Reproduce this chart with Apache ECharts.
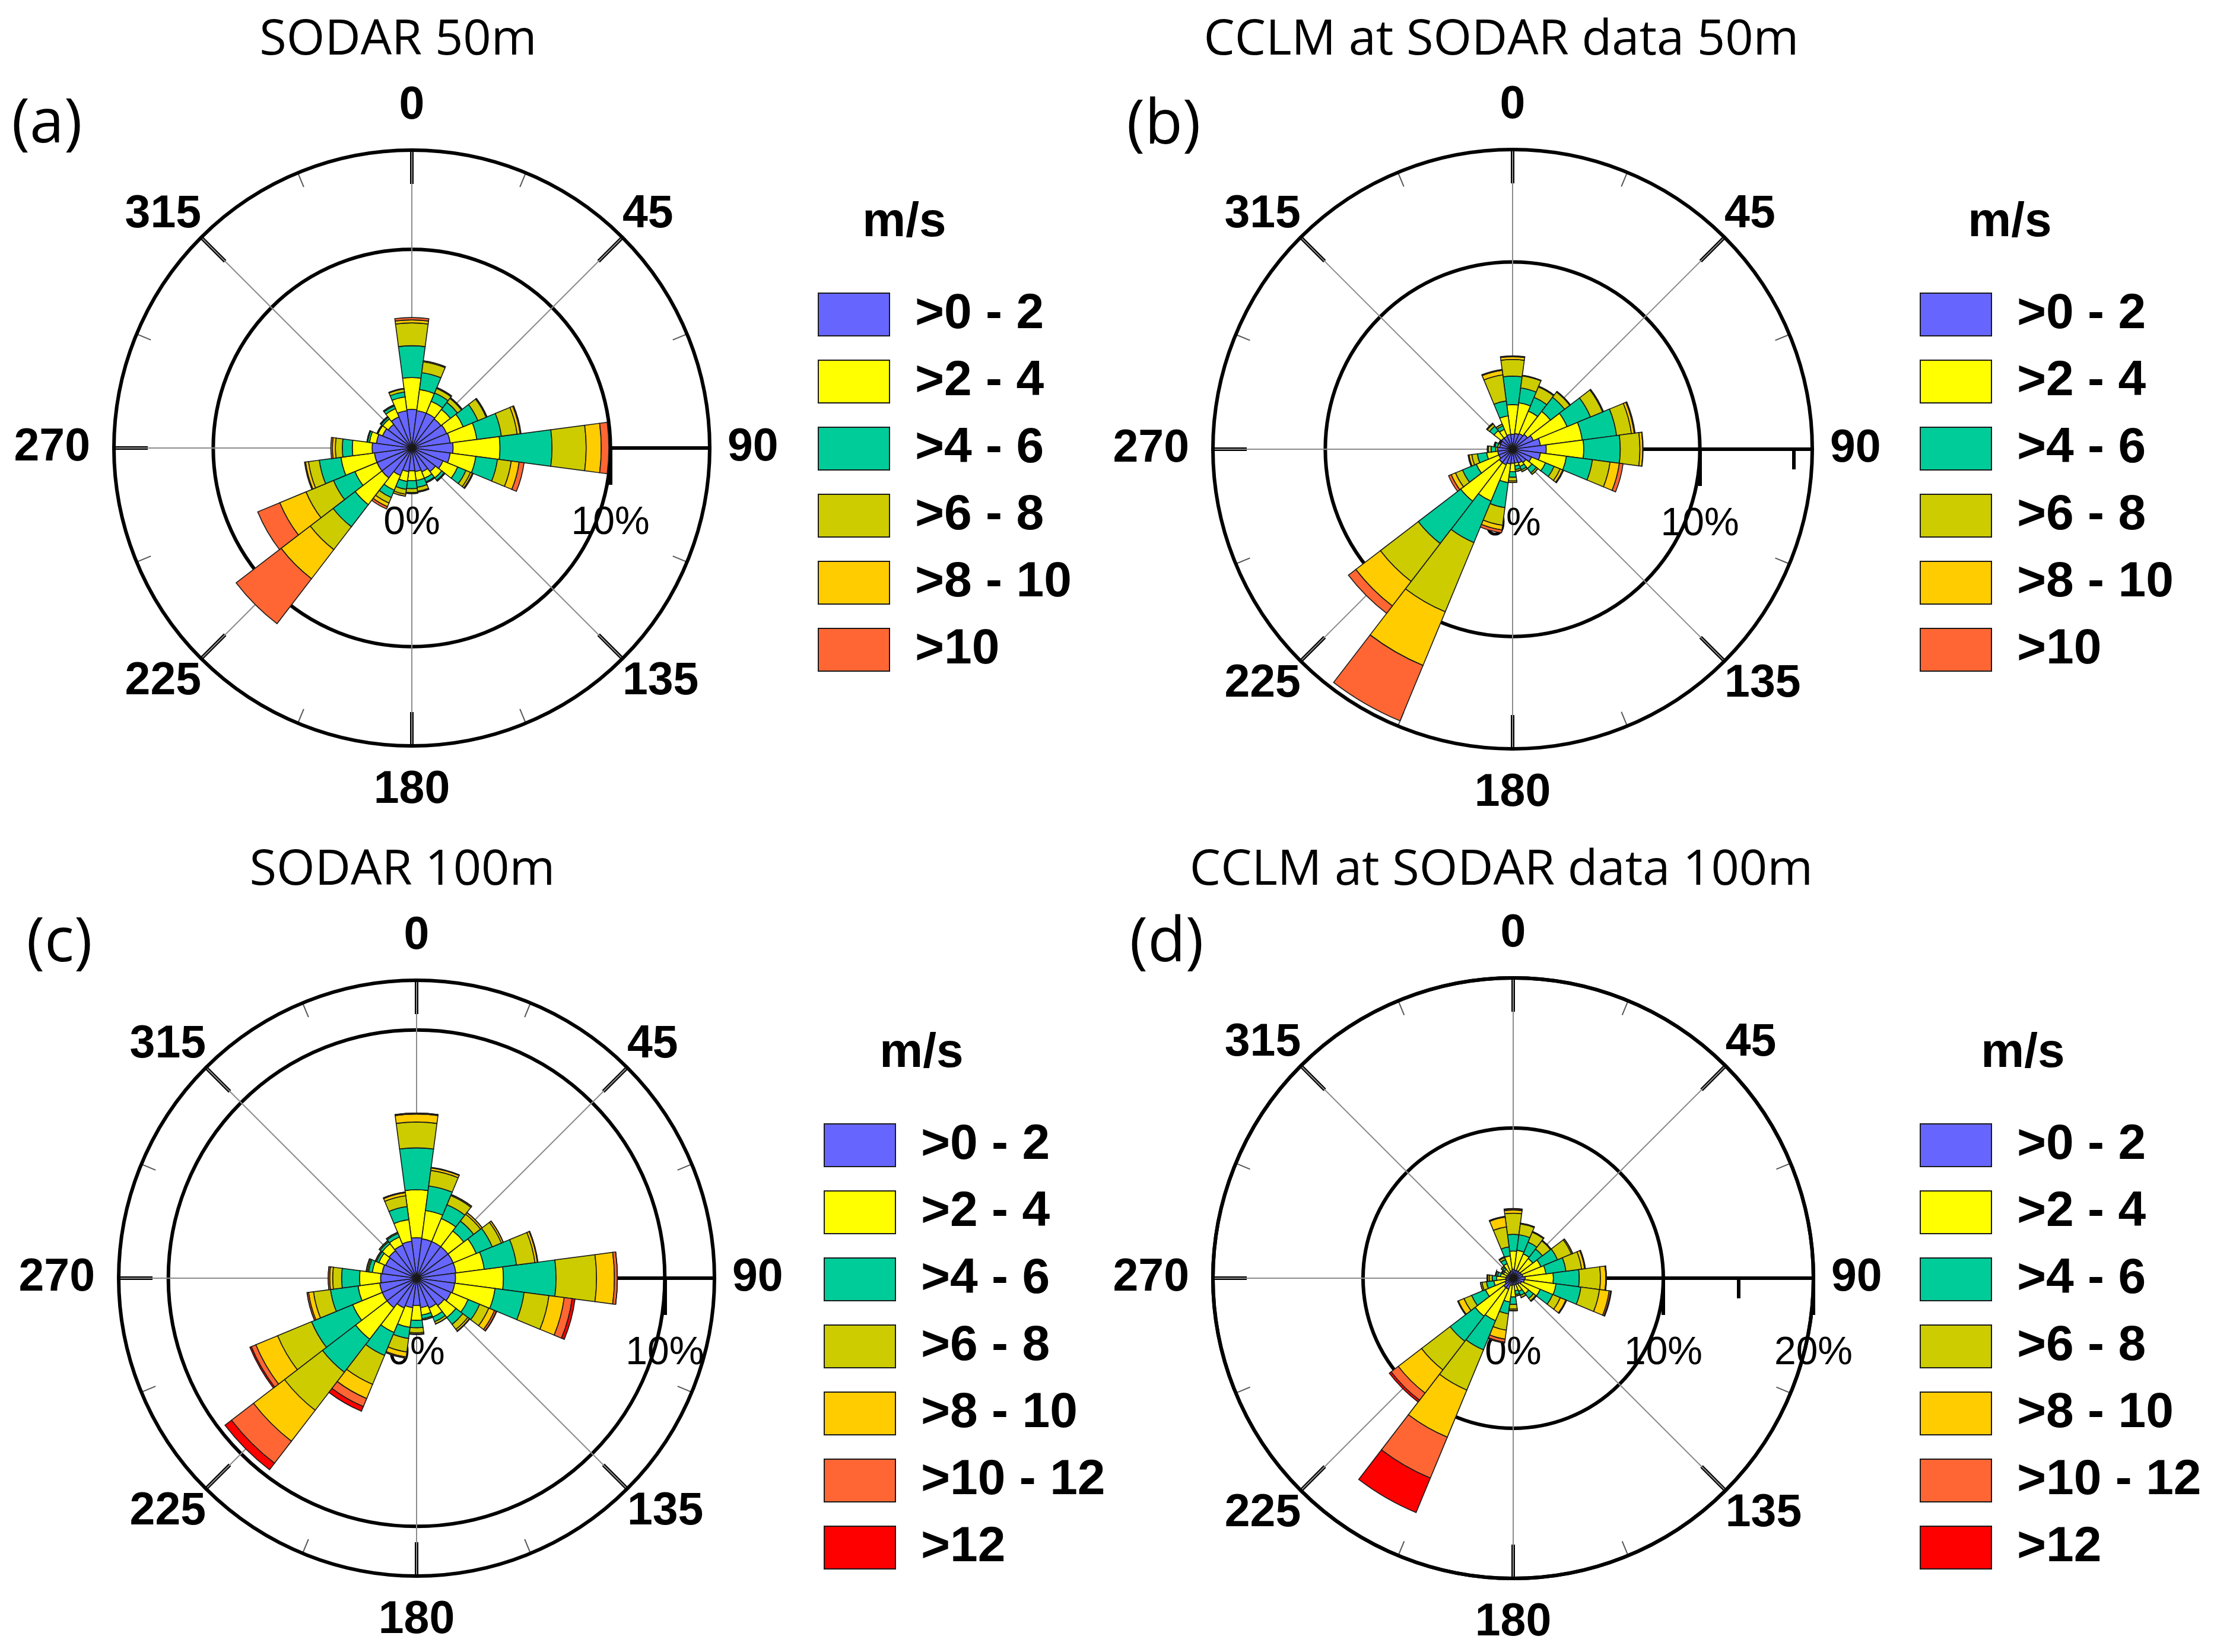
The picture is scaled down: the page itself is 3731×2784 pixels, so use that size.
<!DOCTYPE html>
<html>
<head>
<meta charset="utf-8">
<script src="https://cdn.jsdelivr.net/npm/echarts@6/dist/echarts.min.js"></script>
<style>
html,body{margin:0;padding:0;background:#ffffff;}
#chart{width:3731px;height:2784px;}
</style>
</head>
<body>
<div id="chart"></div>
<script>
// ---------------- DATA ----------------
const directions = ['0','15','30','45','60','75','90','105','120','135','150','165',
                    '180','195','210','225','240','255','270','285','300','315','330','345'];
const classes50  = ['>0 - 2','>2 - 4','>4 - 6','>6 - 8','>8 - 10','>10'];
const classes100 = ['>0 - 2','>2 - 4','>4 - 6','>6 - 8','>8 - 10','>10 - 12','>12'];
const colors50  = ['#6666FF','#FFFF00','#00CC99','#CCCC00','#FFCC00','#FF6633'];
const colors100 = ['#6666FF','#FFFF00','#00CC99','#CCCC00','#FFCC00','#FF6633','#FF0000'];
const radialTicks = ['0%','10%','20%'];

// (a) SODAR 50m  - frequency (%) per direction, one array per speed class
const sodar50_0_2  = [1.95,1.9,1.9,1.85,1.9,1.95,2.08,1.95,1.7,1.5,1.3,1.2,1.15,1.2,1.5,1.9,1.9,1.9,2.0,1.8,1.6,1.5,1.7,1.9];
const sodar50_2_4  = [1.6,1.07,0.65,0.6,0.9,1.35,2.36,1.3,0.8,0.4,0.35,0.45,0.5,0.5,0.8,1.7,1.2,1.7,1.0,0.35,0.25,0.35,0.45,0.7];
const sodar50_4_6  = [1.6,0.86,0.45,0.45,0.8,1.25,2.62,1.1,0.45,0.15,0.2,0.35,0.4,0.4,0.4,1.4,1.17,1.1,0.5,0.1,0.05,0.1,0.15,0.25];
const sodar50_6_8  = [1.15,0.55,0.25,0.25,0.45,0.8,1.72,0.7,0.25,0.05,0.05,0.2,0.2,0.25,0.3,1.45,1.5,0.55,0.35,0.03,0,0.05,0.05,0.15];
const sodar50_8_10 = [0.15,0.05,0.05,0.05,0.05,0.15,0.76,0.4,0.1,0,0,0.05,0.05,0.1,0.2,1.85,1.43,0.15,0.15,0,0,0,0,0.03];
const sodar50_10   = [0.12,0,0,0,0,0.05,0.38,0.25,0.05,0,0,0,0,0,0.12,2.85,1.2,0.05,0.08,0,0,0,0,0];

// (b) CCLM at SODAR data 50m
const cclm50_0_2  = [0.8,0.85,0.9,1.0,1.2,1.5,1.8,1.5,1.1,0.9,0.8,0.75,0.75,0.8,0.9,0.9,0.8,0.8,0.8,0.7,0.7,0.75,0.75,0.8];
const cclm50_2_4  = [1.58,1.65,1.3,1.55,1.95,2.25,2.0,1.4,0.8,0.4,0.2,0.15,0.45,1.0,2.1,2.6,1.3,0.6,0.1,0.1,0.05,0.5,0.4,1.0];
const cclm50_4_6  = [1.52,0.8,0.8,0.95,1.35,1.85,1.95,1.4,0.5,0.3,0.2,0.2,0.3,1.35,2.4,2.85,0.8,0.5,0.25,0.15,0.05,0.3,0.2,0.8];
const cclm50_6_8  = [0.89,0.65,0.6,0.35,0.7,0.8,1.05,0.95,0.35,0.1,0.1,0.1,0.2,0.95,4.0,2.55,0.4,0.3,0.15,0.05,0,0.15,0.1,1.4];
const cclm50_8_10 = [0.15,0.03,0.04,0.04,0.05,0.15,0.15,0.5,0.15,0,0,0,0.08,0.25,3.1,1.65,0.25,0.15,0.05,0,0,0.05,0,0.25];
const cclm50_10   = [0.04,0,0,0,0,0.05,0.02,0.2,0.05,0,0,0,0,0.15,3.2,0.5,0.15,0.05,0,0,0,0,0,0.05];

// (c) SODAR 100m
const sodar100_0_2   = [1.63,1.6,1.6,1.6,1.6,1.6,1.57,1.55,1.5,1.4,1.3,1.2,1.1,1.2,1.3,1.5,1.5,1.5,1.45,1.4,1.35,1.4,1.45,1.5];
const sodar100_2_4   = [1.93,1.15,1.0,0.8,1.0,1.15,1.93,1.64,0.75,0.6,0.4,0.3,0.6,0.8,1.07,1.6,1.29,0.88,0.85,0.4,0.3,0.35,0.35,0.88];
const sodar100_4_6   = [1.69,1.0,0.6,0.5,0.7,1.31,2.12,1.18,0.5,0.35,0.2,0.15,0.3,0.45,1.0,1.68,1.79,1.12,0.72,0.15,0.1,0.1,0.15,0.53];
const sodar100_6_8   = [1.04,0.63,0.4,0.35,0.4,0.75,1.63,1.01,0.4,0.25,0.1,0.05,0.2,0.55,1.26,1.93,1.48,0.69,0.36,0.05,0.05,0.05,0.05,0.44];
const sodar100_8_10  = [0.32,0.1,0.05,0.08,0.08,0.1,0.72,0.62,0.25,0.08,0,0,0.05,0.2,0.62,1.57,0.95,0.2,0.12,0.05,0,0,0,0.12];
const sodar100_10_12 = [0.04,0.02,0,0,0,0.02,0.12,0.32,0.08,0.02,0,0,0.02,0.05,0.35,1.12,0.2,0.06,0.06,0,0,0,0,0.03];
const sodar100_12    = [0,0,0,0,0,0,0,0.12,0.02,0,0,0,0,0,0.2,0.33,0.06,0,0,0,0,0,0,0];

// (d) CCLM at SODAR data 100m
const cclm100_0_2   = [0.6,0.55,0.55,0.55,0.6,0.65,0.8,0.75,0.6,0.5,0.45,0.45,0.45,0.5,0.8,0.8,0.6,0.5,0.5,0.45,0.4,0.4,0.45,0.5];
const cclm100_2_4   = [1.21,1.33,1.2,1.1,1.4,1.55,1.88,2.13,1.35,0.8,0.5,0.4,0.8,1.1,2.27,2.4,1.4,0.8,0.6,0.4,0.3,0.35,0.6,1.0];
const cclm100_4_6   = [1.11,1.04,0.85,0.8,1.2,1.35,1.72,1.67,0.9,0.4,0.3,0.25,0.5,0.8,2.1,2.1,1.0,0.5,0.3,0.2,0.1,0.15,0.3,0.6];
const cclm100_6_8   = [1.41,0.73,0.72,0.68,1.0,1.05,1.41,1.25,0.55,0.2,0.15,0.1,0.3,1.1,2.9,2.4,0.55,0.3,0.2,0.1,0.05,0.1,0.15,1.35];
const cclm100_8_10  = [0.21,0.05,0.05,0.05,0.09,0.2,0.36,0.65,0.4,0.05,0,0,0.1,0.6,3.4,1.95,0.4,0.1,0.1,0.05,0,0,0.05,0.65];
const cclm100_10_12 = [0.08,0,0,0,0,0.05,0.04,0.1,0.05,0,0,0,0.03,0.2,2.95,0.6,0.05,0,0.05,0,0,0,0,0.05];
const cclm100_12    = [0.02,0,0,0,0,0,0,0.05,0,0,0,0,0,0.06,2.48,0.15,0,0,0,0,0,0,0,0];

// ---------------- LAYOUT ----------------
const panels = [
  { title:'SODAR 50m', letter:'(a)', classes:classes50, colors:colors50,
    data:[sodar50_0_2,sodar50_2_4,sodar50_4_6,sodar50_6_8,sodar50_8_10,sodar50_10],
    max:15, center:[694,755], radius:502, titlePos:[671,68], letterPos:[79,210],
    legendPos:[1378,488], unitPos:[1524,375] },
  { title:'CCLM at SODAR data 50m', letter:'(b)', classes:classes50, colors:colors50,
    data:[cclm50_0_2,cclm50_2_4,cclm50_4_6,cclm50_6_8,cclm50_8_10,cclm50_10],
    max:16, center:[2549,757], radius:505, titlePos:[2530,68], letterPos:[1961,212],
    legendPos:[3235,488], unitPos:[3387,375] },
  { title:'SODAR 100m', letter:'(c)', classes:classes100, colors:colors100,
    data:[sodar100_0_2,sodar100_2_4,sodar100_4_6,sodar100_6_8,sodar100_8_10,sodar100_10_12,sodar100_12],
    max:12, center:[702,2154], radius:502, titlePos:[678,1467], letterPos:[100,1590],
    legendPos:[1388,1888], unitPos:[1553,1775] },
  { title:'CCLM at SODAR data 100m', letter:'(d)', classes:classes100, colors:colors100,
    data:[cclm100_0_2,cclm100_2_4,cclm100_4_6,cclm100_6_8,cclm100_8_10,cclm100_10_12,cclm100_12],
    max:20, center:[2550,2154], radius:506, titlePos:[2530,1467], letterPos:[1966,1590],
    legendPos:[3235,1888], unitPos:[3409,1775] }
];

const BOLD = 'Liberation Sans';
const angleLabelRich = {
  n: {padding:[0,0,36,0], fontSize:77, fontWeight:'bold', fontFamily:BOLD, color:'#000'},
  e: {padding:[0,0,0,30], fontSize:77, fontWeight:'bold', fontFamily:BOLD, color:'#000'},
  s: {padding:[36,0,0,0], fontSize:77, fontWeight:'bold', fontFamily:BOLD, color:'#000'},
  w: {padding:[0,40,0,0], fontSize:77, fontWeight:'bold', fontFamily:BOLD, color:'#000'},
  d: {fontSize:77, fontWeight:'bold', fontFamily:BOLD, color:'#000'}
};
function angleLabel(v) {
  const a = v % 360;
  const key = a === 0 ? 'n' : a === 90 ? 'e' : a === 180 ? 's' : a === 270 ? 'w' : 'd';
  return '{' + key + '|' + a + '}';
}

const polar = [], angleAxis = [], radiusAxis = [], series = [], legend = [], graphic = [];

panels.forEach((p, i) => {
  const ctr = p.center, rad = [0, p.radius];
  // polar i: bars, polar 4+i: decoration, polar 8+i: minor radial ticks
  polar[i] = { center: ctr, radius: rad };
  polar[4 + i] = { center: ctr, radius: rad };
  polar[8 + i] = { center: ctr, radius: rad };

  angleAxis.push({
    polarIndex: i, type: 'category', data: directions, startAngle: 97.5, clockwise: true,
    boundaryGap: true, axisLine: {show:false}, axisTick: {show:false},
    axisLabel: {show:false}, splitLine: {show:false}, splitArea: {show:false}
  });
  radiusAxis.push({
    polarIndex: i, type: 'value', min: 0, max: p.max,
    axisLine: {show:false}, axisTick: {show:false}, axisLabel: {show:false}, splitLine: {show:false}
  });

  const majors = radialTicks.map(t => parseFloat(t)).filter(v => v > 0 && v <= p.max);
  const labelsV = radialTicks.map(t => parseFloat(t)).filter(v => v <= p.max);
  angleAxis.push({
    polarIndex: 4 + i, type: 'value', min: 90, max: 450, interval: 45,
    startAngle: 0, clockwise: true,
    axisLine: {show:true, lineStyle:{color:'#000', width:6}},
    axisTick: {show:true, inside:true, length:57, lineStyle:{color:'#000', width:6}},
    minorTick: {show:true, splitNumber:2, length:26, lineStyle:{color:'#555', width:2}},
    axisLabel: {show:true, margin:0, color:'#000', fontSize:77, fontWeight:'bold', fontFamily:BOLD,
      formatter: angleLabel, rich: angleLabelRich},
    splitLine: {show:true, lineStyle:{color:'#8c8c8c', width:2}}
  });
  radiusAxis.push({
    polarIndex: 4 + i, type: 'value', min: 0, max: p.max, interval: 10,
    axisLine: {show:true, lineStyle:{color:'#000', width:6}},
    axisTick: {show:true, length:-62, customValues: majors, lineStyle:{color:'#000', width:6}},
    axisLabel: {show:true, customValues: labelsV, formatter:'{value}%', margin:-160,
      color:'#000', fontSize:66, fontFamily:BOLD},
    splitLine: {show:true, lineStyle:{color:'#000', width:6}}
  });

  const minors = [5, 15].filter(v => v < p.max);
  angleAxis.push({
    polarIndex: 8 + i, type: 'value', min: 90, max: 450, startAngle: 0, clockwise: true,
    axisLine: {show:false}, axisTick: {show:false}, axisLabel: {show:false}, splitLine: {show:false}
  });
  radiusAxis.push({
    polarIndex: 8 + i, type: 'value', min: 0, max: p.max,
    axisLine: {show:false},
    axisTick: {show:true, length:-34, customValues: minors, lineStyle:{color:'#000', width:6}},
    axisLabel: {show:false}, splitLine: {show:false}
  });

  p.data.forEach((vals, k) => {
    series.push({
      type: 'bar', coordinateSystem: 'polar', polarIndex: i,
      name: p.classes[k], stack: 'rose' + i, data: vals,
      barCategoryGap: '0%', z: 5,
      itemStyle: {color: p.colors[k], borderColor: '#1a1a1a', borderWidth: 1.6},
      emphasis: {disabled: true}, silent: true
    });
  });

  legend.push({
    data: p.classes, orient: 'vertical', left: p.legendPos[0], top: p.legendPos[1],
    itemWidth: 120, itemHeight: 72, itemGap: 29, icon: 'rect', selectedMode: false,
    padding: 0,
    textStyle: {fontSize: 84, fontWeight: 'bold', fontFamily: BOLD, color: '#000', padding: [0,0,0,38]}
  });

  graphic.push({
    type: 'text', x: p.titlePos[0], y: p.titlePos[1], silent: true,
    style: {text: p.title, fill: '#000', font: '83px "Open Sans"', align: 'center', verticalAlign: 'middle'}
  });
  graphic.push({
    type: 'text', x: p.letterPos[0], y: p.letterPos[1], silent: true,
    style: {text: p.letter, fill: '#000', font: '104px "Open Sans"', align: 'center', verticalAlign: 'middle'}
  });
  graphic.push({
    type: 'text', x: p.unitPos[0], y: p.unitPos[1], silent: true,
    style: {text: 'm/s', fill: '#000', font: 'bold 82px "Liberation Sans"', align: 'center', verticalAlign: 'middle'}
  });
});

const chart = echarts.init(document.getElementById('chart'), null, {renderer: 'canvas', width: 3731, height: 2784});
chart.setOption({
  backgroundColor: '#ffffff',
  animation: false,
  polar: polar,
  angleAxis: angleAxis,
  radiusAxis: radiusAxis,
  legend: legend,
  graphic: graphic,
  series: series
});
</script>
</body>
</html>
